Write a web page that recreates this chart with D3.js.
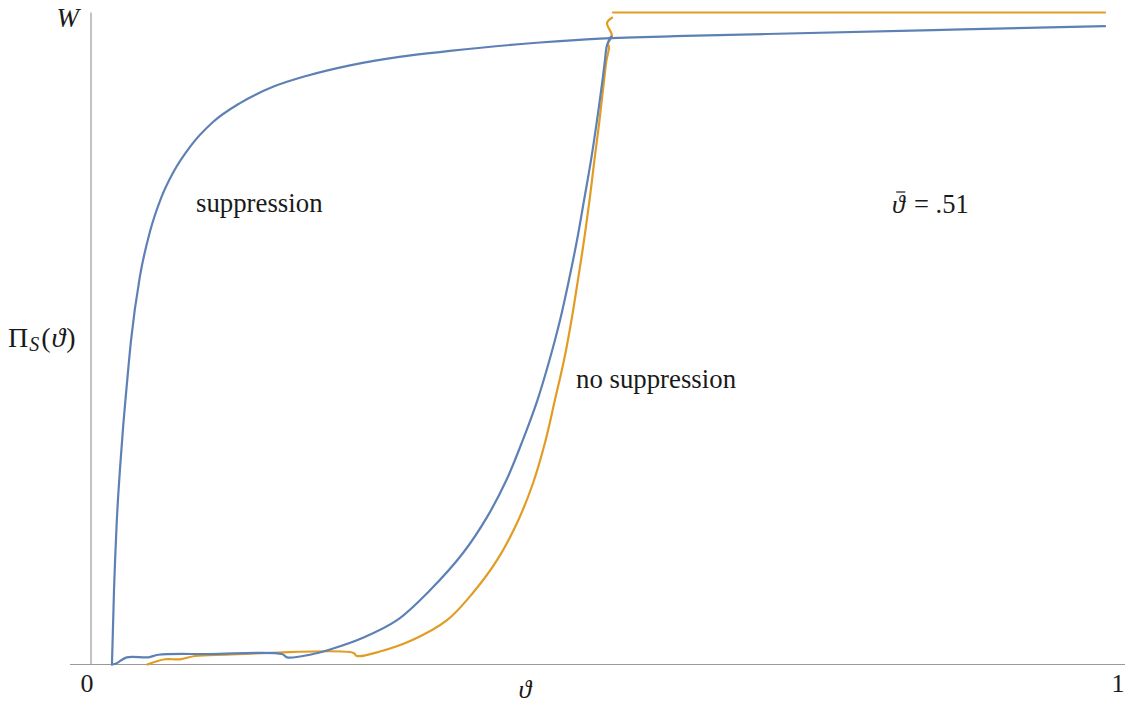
<!DOCTYPE html>
<html>
<head>
<meta charset="utf-8">
<script src="https://cdn.jsdelivr.net/npm/d3@7"></script>
</head>
<body style="margin:0;background:#fff">
<svg id="chart" width="1128" height="706" style="display:block"></svg>
<script>
// Payoff Π_S(ϑ) under suppression
const suppressionTheta = [0.0242, 0.0262, 0.0288, 0.0320, 0.0352, 0.0385, 0.0427, 0.0514, 0.0611, 0.0725,
  0.0837, 0.0999, 0.1222, 0.1484, 0.1804, 0.2134, 0.2551, 0.3030, 0.3520, 0.4394, 0.4976, 0.5800, 0.6596, 0.8206, 0.9874];
const suppressionValue = [0, 0.114, 0.217, 0.300, 0.368, 0.427, 0.497, 0.596, 0.664, 0.718,
  0.755, 0.794, 0.832, 0.861, 0.886, 0.903, 0.919, 0.932, 0.941, 0.954, 0.960, 0.964, 0.967, 0.973, 0.979];

// Payoff without suppression (blue branch)
const noSuppressionTheta = [0.0242, 0.0288, 0.0385, 0.0595, 0.0692, 0.1193, 0.1891, 0.1940, 0.2163, 0.2357,
  0.2677, 0.3007, 0.3327, 0.3647, 0.3880, 0.4074, 0.4229, 0.4370, 0.4486, 0.4588,
  0.4675, 0.4753, 0.4821, 0.4889, 0.4947, 0.5000, 0.5024, 0.5044, 0.5082];
const noSuppressionValue = [0, 0.002, 0.011, 0.011, 0.015, 0.016, 0.016, 0.011, 0.015, 0.023,
  0.041, 0.068, 0.114, 0.171, 0.226, 0.285, 0.345, 0.406, 0.467, 0.528,
  0.590, 0.651, 0.712, 0.774, 0.835, 0.896, 0.927, 0.950, 0.963];

// Payoff without suppression (orange branch), up to the threshold ϑ̄
const orangeTheta = [0.0585, 0.0757, 0.0902, 0.1048, 0.1358, 0.2580, 0.2619, 0.2842, 0.3162, 0.3492,
  0.3744, 0.3977, 0.4171, 0.4326, 0.4442, 0.4539, 0.4627, 0.4699, 0.4762, 0.4821,
  0.4874, 0.4922, 0.4971, 0.5015, 0.5039, 0.5063, 0.5054, 0.5092, 0.5044, 0.5092];
const orangeValue = [0, 0.008, 0.008, 0.013, 0.015, 0.018, 0.013, 0.020, 0.038, 0.068,
  0.110, 0.160, 0.217, 0.278, 0.340, 0.406, 0.467, 0.528, 0.590, 0.651,
  0.712, 0.774, 0.835, 0.896, 0.927, 0.946, 0.953, 0.964, 0.984, 0.992];

// Above the threshold the payoff equals W
const orangeTopTheta = [0.5102, 0.9874];
const orangeTopValue = [1, 1];

const xTicks = [0, 1];
const xTickLabels = ["0", "1"];
const thresholdValue = ".51";

const BLUE = "#5e81b5";
const ORANGE = "#e19c24";
const AXIS = "#9a9a9a";
const INK = "#1a1a1a";
const FONT = `"Liberation Serif", serif`;

const svg = d3.select("#chart");
const x = d3.scaleLinear().domain([0, 1]).range([87, 1118]);
const y = d3.scaleLinear().domain([0, 1]).range([664.5, 12.5]);

const zip = (a, b) => a.map((v, i) => [v, b[i]]);

// axes
const axisX = 91;
svg.append("line")
  .attr("x1", 70).attr("x2", 1125)
  .attr("y1", y(0)).attr("y2", y(0))
  .attr("stroke", AXIS).attr("stroke-width", 1.2);
svg.append("line")
  .attr("x1", axisX).attr("x2", axisX)
  .attr("y1", y(0)).attr("y2", y(1))
  .attr("stroke", AXIS).attr("stroke-width", 1.2);

function label(px, py, size, anchor) {
  const t = svg.append("text")
    .attr("x", px).attr("y", py)
    .attr("font-family", FONT)
    .attr("font-size", size)
    .attr("fill", INK);
  if (anchor) t.attr("text-anchor", anchor);
  return t;
}

xTicks.forEach((d, i) => label(x(d), 692, 26, "middle").text(xTickLabels[i]));

// curves
const smooth = d3.line()
  .x(d => x(d[0]))
  .y(d => y(d[1]))
  .curve(d3.curveMonotoneX);
const lineC = d3.line()
  .x(d => x(d[0]))
  .y(d => y(d[1]))
  .curve(d3.curveCatmullRom.alpha(0.5));
const lineL = d3.line()
  .x(d => x(d[0]))
  .y(d => y(d[1]));

const g = svg.append("g")
  .attr("fill", "none")
  .attr("stroke-width", 2.2)
  .attr("stroke-linejoin", "round")
  .attr("stroke-linecap", "round");

g.append("path").attr("stroke", ORANGE).attr("d", lineC(zip(orangeTheta, orangeValue)));
g.append("path").attr("stroke", ORANGE).attr("d", lineL(zip(orangeTopTheta, orangeTopValue)));
g.append("path").attr("stroke", BLUE).attr("d", lineC(zip(noSuppressionTheta, noSuppressionValue)));
g.append("path").attr("stroke", BLUE).attr("d", smooth(zip(suppressionTheta, suppressionValue)));

// labels
label(79, 27, 27, "end").attr("font-style", "italic").text("W");

const yl = label(8, 347, 28);
yl.append("tspan").text("Π");
yl.append("tspan").attr("font-size", 20).attr("font-style", "italic").attr("dx", 1).attr("dy", 4).text("S");
yl.append("tspan").attr("dx", 2).attr("dy", -4).text("(");
yl.append("tspan").attr("font-style", "italic").attr("dx", 1).text("ϑ");
yl.append("tspan").attr("dx", 1).text(")");

label(525, 698, 26, "middle").attr("font-style", "italic").text("ϑ");

label(196, 212, 26.8).text("suppression");
label(576, 388, 26.8).text("no suppression");

// threshold annotation: ϑ̄ = .51
const th = label(892, 213, 26).attr("font-style", "italic").text("ϑ");
const tb = th.node().getBBox();
svg.append("line")
  .attr("x1", tb.x + tb.width * 0.3).attr("x2", tb.x + tb.width * 0.95)
  .attr("y1", tb.y + 2).attr("y2", tb.y + 2)
  .attr("stroke", INK).attr("stroke-width", 1.2);
label(tb.x + tb.width + 8, 213, 26.5).text("= " + thresholdValue);
</script>
</body>
</html>
